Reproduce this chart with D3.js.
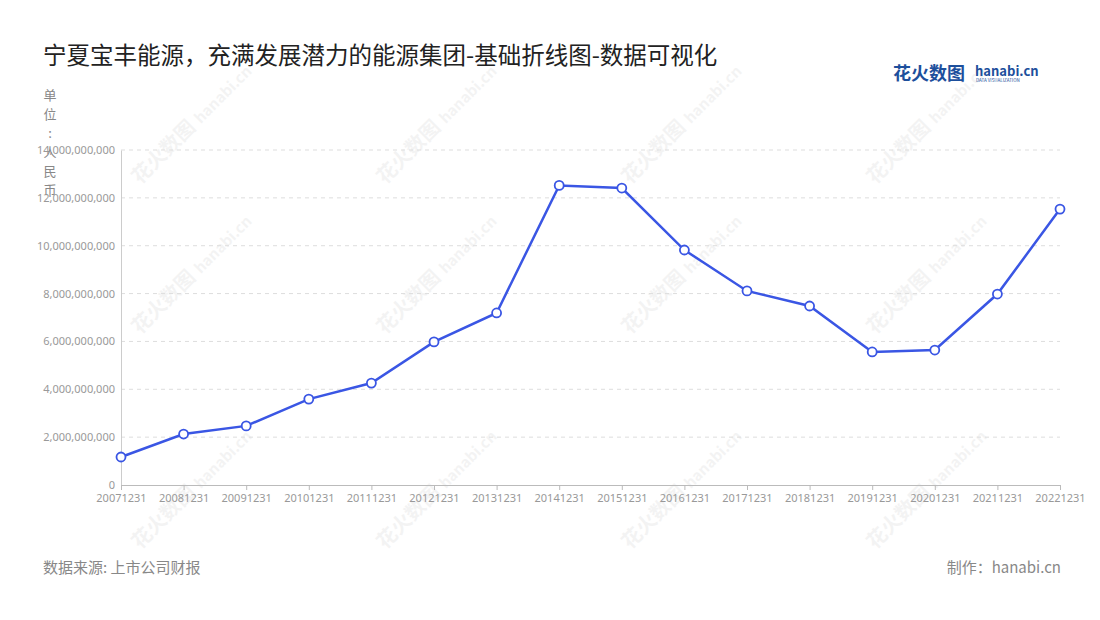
<!DOCTYPE html>
<html><head><meta charset="utf-8">
<script src="https://cdn.jsdelivr.net/npm/d3@7"></script>
<style>body{margin:0;background:#fff;font-family:"Noto Sans CJK SC","Noto Sans",sans-serif;}</style>
</head><body><svg id="c" width="1100" height="620"></svg>
<script>
const categories=["20071231","20081231","20091231","20101231","20111231","20121231","20131231","20141231","20151231","20161231","20171231","20181231","20191231","20201231","20211231","20221231"];
const values=[1.17e9,2.13e9,2.47e9,3.59e9,4.26e9,5.98e9,7.19e9,12.52e9,12.41e9,9.82e9,8.11e9,7.48e9,5.56e9,5.64e9,7.98e9,11.53e9];
const yTicks=[0,2e9,4e9,6e9,8e9,10e9,12e9,14e9];
const title="宁夏宝丰能源，充满发展潜力的能源集团-基础折线图-数据可视化";
const unitLabel="单位：人民币";

const svg=d3.select("#c");
const L=121,R=1060,T=150,B=485;
const x=d3.scalePoint().domain(categories).range([L,R]);
const y=d3.scaleLinear().domain([0,14e9]).range([B,T]);

const wm=[[385,185],[630,185],[875,185],[385,335],[630,335],[875,335],[385,550],[630,550],[875,550],[140,335],[140,185],[140,550]];
wm.forEach(([a,b])=>{
  const g=svg.append("g").attr("transform",`translate(${a},${b}) rotate(-45)`).attr("opacity",0.045);
  g.append("text").text("花火数图").attr("font-size",20).attr("font-weight","bold").attr("fill","#000");
  g.append("text").attr("x",86).text("hanabi.cn").attr("font-size",15).attr("font-weight","bold").attr("fill","#000");
});

svg.append("text").attr("x",43).attr("y",64).text(title).attr("font-size",23.5).attr("fill","#222");
svg.append("text").attr("x",893).attr("y",80).text("花火数图").attr("font-size",18).attr("font-weight","bold").attr("fill","#1d4f9c");
svg.append("text").attr("x",975).attr("y",76).text("hanabi.cn").attr("font-size",13).attr("font-weight","bold").attr("fill","#1d4f9c");
svg.append("text").attr("x",976).attr("y",82).text("DATA VISUALIZATION").attr("font-size",4.5).attr("fill","#1d4f9c");

svg.append("g").selectAll("line").data(yTicks.slice(1)).join("line")
  .attr("x1",L).attr("x2",R).attr("y1",d=>y(d)).attr("y2",d=>y(d))
  .attr("stroke","#ddd").attr("stroke-dasharray","4,4");

const ya=svg.append("g").attr("transform",`translate(${L},0)`)
  .call(d3.axisLeft(y).tickValues(yTicks).tickFormat(d3.format(",")).tickSize(0).tickPadding(6));
ya.select(".domain").attr("stroke","#ccc");
ya.selectAll("text").attr("fill","#999").attr("font-size",11).attr("font-family","Noto Sans");

const xa=svg.append("g").attr("transform",`translate(0,${B})`)
  .call(d3.axisBottom(x).tickSize(5).tickPadding(4));
xa.select(".domain").attr("stroke","#bbb");
xa.selectAll("line").attr("stroke","#bbb");
xa.selectAll("text").attr("fill","#999").attr("font-size",11).attr("font-family","Noto Sans");

[...unitLabel].forEach((c,i)=>{
  svg.append("text").attr("x",50).attr("y",100+i*19).attr("text-anchor","middle").text(c==="："?":":c).attr("font-size",13).attr("fill","#888");
});

svg.append("path").datum(values).attr("fill","none").attr("stroke","#3a56e4").attr("stroke-width",2.5)
  .attr("d",d3.line().x((d,i)=>x(categories[i])).y(d=>y(d)));
svg.append("g").selectAll("circle").data(values).join("circle")
  .attr("cx",(d,i)=>x(categories[i])).attr("cy",d=>y(d)).attr("r",4.5)
  .attr("fill","#fff").attr("stroke","#3a56e4").attr("stroke-width",1.8);

svg.append("text").attr("x",43).attr("y",573).text("数据来源: 上市公司财报").attr("font-size",15).attr("fill","#888");
svg.append("text").attr("x",1061).attr("y",573).attr("text-anchor","end").text("制作：hanabi.cn").attr("font-size",15).attr("fill","#888");
</script></body></html>
